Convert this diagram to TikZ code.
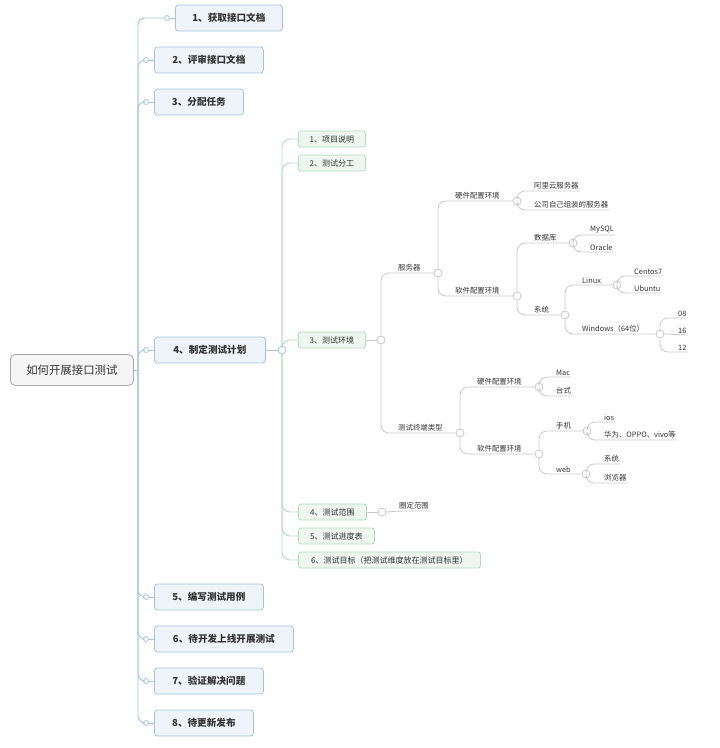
\documentclass[tikz,border=0pt]{standalone}
\usepackage{fontspec}
\setmainfont{Noto Sans CJK SC}
\usetikzlibrary{positioning}
\definecolor{txt}{RGB}{51,51,51}
\definecolor{rootfill}{RGB}{245,245,245}
\definecolor{rootline}{RGB}{170,170,170}
\definecolor{bluefill}{RGB}{238,244,250}
\definecolor{blueline}{RGB}{165,195,222}
\definecolor{greenfill}{RGB}{237,246,239}
\definecolor{greenline}{RGB}{178,218,192}
\definecolor{grayline}{RGB}{200,200,200}

\begin{document}
\begin{tikzpicture}[x=1pt, y=-1pt,
  rootbox/.style={draw=rootline, fill=rootfill, rounded corners=5pt, line width=0.8pt, minimum height=31pt, minimum width=123pt, anchor=west, font=\fontsize{11.4}{13}\selectfont, text=txt},
  topicbox/.style={draw=blueline, fill=bluefill, rounded corners=3pt, line width=0.8pt, minimum height=26pt, anchor=west, font=\fontsize{9.6}{11}\selectfont\bfseries, text=txt},
  subbox/.style={draw=greenline, fill=greenfill, rounded corners=2.5pt, line width=0.8pt, minimum height=16pt, anchor=west, font=\fontsize{8}{9}\selectfont, text=txt},
  leaf/.style={anchor=south west, inner xsep=1pt, inner ysep=1.6pt, font=\fontsize{7.4}{8.5}\selectfont, text=txt},
  bluearr/.style={draw=blueline, line width=0.9pt, rounded corners=7pt},
  greenarr/.style={draw=greenline, line width=0.9pt, rounded corners=8pt},
  grayarr/.style={draw=grayline, line width=0.8pt, rounded corners=8pt},
  dot/.style={circle, draw=blueline, fill=white, line width=0.8pt, inner sep=0pt, minimum size=5pt},
  hub/.style={circle, draw=blueline, fill=white, line width=0.8pt, inner sep=0pt, minimum size=8pt},
  knot/.style={circle, draw=grayline, fill=white, line width=0.8pt, inner sep=0pt, minimum size=8pt}
]
\useasboundingbox (0,0) rectangle (720,748);

% root and main topics
\node[rootbox] (root) at (10,370) {如何开展接口测试};
\coordinate (trunk) at (138,370);

\node[topicbox, minimum width=107pt] (b1) at (175,18) {1、获取接口文档};
\node[topicbox, minimum width=109pt] (b2) at (154,60) {2、评审接口文档};
\node[topicbox, minimum width=89pt] (b3) at (154,102) {3、分配任务};
\node[topicbox, minimum width=111pt] (b4) at (154,350) {4、制定测试计划};
\node[topicbox, minimum width=109pt] (b5) at (154,597) {5、编写测试用例};
\node[topicbox, minimum width=139pt] (b6) at (154,639) {6、待开发上线开展测试};
\node[topicbox, minimum width=109pt] (b7) at (154,681) {7、验证解决问题};
\node[topicbox, minimum width=99pt] (b8) at (154,723) {8、待更新发布};

\node[dot] (d1) at (167,18) {};
\node[dot] (d2) at (146,60) {};
\node[dot] (d3) at (146,102) {};
\node[dot] (d4) at (146,350) {};
\node[dot] (d5) at (146,597) {};
\node[dot] (d6) at (146,639) {};
\node[dot] (d7) at (146,681) {};
\node[dot] (d8) at (146,723) {};

\draw[bluearr] (root.east) -- (trunk);
\draw[bluearr] (trunk) |- (d1.west);
\draw[bluearr] (trunk) |- (d2.west);
\draw[bluearr] (trunk) |- (d3.west);
\draw[bluearr] (trunk) |- (d4.west);
\draw[bluearr] (trunk) |- (d5.west);
\draw[bluearr] (trunk) |- (d6.west);
\draw[bluearr] (trunk) |- (d7.west);
\draw[bluearr] (trunk) |- (d8.west);
\draw[bluearr] (d1.east) -- (b1.west);
\draw[bluearr] (d2.east) -- (b2.west);
\draw[bluearr] (d3.east) -- (b3.west);
\draw[bluearr] (d4.east) -- (b4.west);
\draw[bluearr] (d5.east) -- (b5.west);
\draw[bluearr] (d6.east) -- (b6.west);
\draw[bluearr] (d7.east) -- (b7.west);
\draw[bluearr] (d8.east) -- (b8.west);

% test plan
\node[hub] (k4) at (282,350) {};
\node[subbox, minimum width=67pt] (s1) at (298,139) {1、项目说明};
\node[subbox, minimum width=67pt] (s2) at (298,163) {2、测试分工};
\node[subbox, minimum width=67pt] (s3) at (298,340) {3、测试环境};
\node[subbox, minimum width=68pt] (s4) at (298,512) {4、测试范围};
\node[subbox, minimum width=76pt] (s5) at (298,536) {5、测试进度表};
\node[subbox, minimum width=182pt] (s6) at (298,560) {6、测试目标（把测试维度放在测试目标里）};

\draw[bluearr] (b4.east) -- (k4.west);
\draw[greenarr] (k4.north) |- (s1.west);
\draw[greenarr] (k4.north) |- (s2.west);
\draw[greenarr] (k4.north) |- (s3.west);
\draw[greenarr] (k4.south) |- (s4.west);
\draw[greenarr] (k4.south) |- (s5.west);
\draw[greenarr] (k4.south) |- (s6.west);

% test environment
\node[knot] (k3) at (381,340) {};
\node[leaf] (srv) at (397,273) {服务器};
\node[knot] (ksrv) at (438,273) {};
\node[leaf] (hw1) at (454,201) {硬件配置环境};
\node[knot] (khw1) at (517,201) {};
\node[leaf] (ali) at (533,191) {阿里云服务器};
\node[leaf] (own) at (533,210) {公司自己组装的服务器};
\node[leaf] (sw1) at (454,296) {软件配置环境};
\node[knot] (ksw1) at (517,296) {};
\node[leaf] (db) at (533,243) {数据库};
\node[knot] (kdb) at (573,243) {};
\node[leaf] (mysql) at (589,235) {MySQL};
\node[leaf] (oracle) at (589,252) {Oracle};
\node[leaf] (os) at (533,315) {系统};
\node[knot] (kos) at (565,315) {};
\node[leaf] (linux) at (581,285) {Linux};
\node[knot] (klinux) at (617,285) {};
\node[leaf] (centos) at (633,276) {Centos7};
\node[leaf] (ubuntu) at (633,293) {Ubuntu};
\node[leaf] (win) at (581,334) {Windows（64位）};
\node[knot] (kwin) at (660,334) {};
\node[leaf] (w08) at (677,318) {08};
\node[leaf] (w16) at (677,335) {16};
\node[leaf] (w12) at (677,352) {12};
\node[leaf] (term) at (397,433) {测试终端类型};
\node[knot] (kterm) at (460,433) {};
\node[leaf] (hw2) at (476,387) {硬件配置环境};
\node[knot] (khw2) at (539,387) {};
\node[leaf] (mac) at (555,377) {Mac};
\node[leaf] (desk) at (555,396) {台式};
\node[leaf] (sw2) at (476,454) {软件配置环境};
\node[knot] (ksw2) at (539,454) {};
\node[leaf] (phone) at (555,431) {手机};
\node[knot] (kphone) at (587,431) {};
\node[leaf] (ios) at (603,422) {ios};
\node[leaf] (android) at (603,440) {华为、OPPO、vivo等};
\node[leaf] (web) at (555,474) {web};
\node[knot] (kweb) at (586,474) {};
\node[leaf] (websys) at (603,464) {系统};
\node[leaf] (browser) at (603,483) {浏览器};

\draw[grayarr] (s3.east) -- (k3.west);
\draw[grayarr] (k3.north) |- (srv.south east) -- (ksrv.west);
\draw[grayarr] (ksrv.north) |- (hw1.south east) -- (khw1.west);
\draw[grayarr] (khw1.north) |- (ali.south east);
\draw[grayarr] (khw1.south) |- (own.south east);
\draw[grayarr] (ksrv.south) |- (sw1.south east) -- (ksw1.west);
\draw[grayarr] (ksw1.north) |- (db.south east) -- (kdb.west);
\draw[grayarr] (kdb.north) |- (mysql.south east);
\draw[grayarr] (kdb.south) |- (oracle.south east);
\draw[grayarr] (ksw1.south) |- (os.south east) -- (kos.west);
\draw[grayarr] (kos.north) |- (linux.south east) -- (klinux.west);
\draw[grayarr] (klinux.north) |- (centos.south east);
\draw[grayarr] (klinux.south) |- (ubuntu.south east);
\draw[grayarr] (kos.south) |- (win.south east) -- (kwin.west);
\draw[grayarr] (kwin.north) |- (w08.south east);
\draw[grayarr] (kwin.east) -- (w16.south east);
\draw[grayarr] (kwin.south) |- (w12.south east);
\draw[grayarr] (k3.south) |- (term.south east) -- (kterm.west);
\draw[grayarr] (kterm.north) |- (hw2.south east) -- (khw2.west);
\draw[grayarr] (khw2.north) |- (mac.south east);
\draw[grayarr] (khw2.south) |- (desk.south east);
\draw[grayarr] (kterm.south) |- (sw2.south east) -- (ksw2.west);
\draw[grayarr] (ksw2.north) |- (phone.south east) -- (kphone.west);
\draw[grayarr] (kphone.north) |- (ios.south east);
\draw[grayarr] (kphone.south) |- (android.south east);
\draw[grayarr] (ksw2.south) |- (web.south east) -- (kweb.west);
\draw[grayarr] (kweb.north) |- (websys.south east);
\draw[grayarr] (kweb.south) |- (browser.south east);

% test scope
\node[knot] (k4s) at (382,512) {};
\node[leaf] (scope) at (398,511) {圈定范围};
\draw[grayarr] (s4.east) -- (k4s.west);
\draw[grayarr] (k4s.east) -- (scope.south west) -- (scope.south east);
\end{tikzpicture}
\end{document}
